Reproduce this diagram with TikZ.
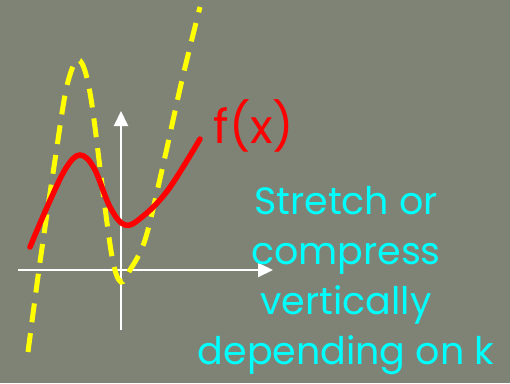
\documentclass[tikz,border=0pt]{standalone}
\usepackage{fontspec}
\setmainfont{Poppins}
\usetikzlibrary{arrows.meta}
\definecolor{bg}{RGB}{126,131,118}
\definecolor{cyantext}{RGB}{0,255,255}
\definecolor{redcurve}{RGB}{255,0,0}
\definecolor{yellowdash}{RGB}{255,255,0}
\tikzset{
  axis/.style={draw=white, line width=2pt, -{Triangle[width=14pt,length=15pt]}, fill=white},
  fcurve/.style={draw=redcurve, line width=5.5pt, line cap=round},
  kcurve/.style={draw=yellowdash, line width=5pt, dash pattern=on 19pt off 11pt},
  lbl/.style={inner sep=0pt, font=\fontsize{47}{52}\selectfont, text=redcurve},
  desc/.style={inner sep=0pt, align=center, font=\fontsize{38}{50}\selectfont, text=cyantext}
}
\begin{document}
\begin{tikzpicture}[x=1pt,y=-1pt]
\fill[bg] (0,0) rectangle (510,383);
\useasboundingbox (0,0) rectangle (510,383);
% axes
\coordinate (xs) at (18,270);
\coordinate (xe) at (273,270);
\coordinate (ys) at (121,330);
\coordinate (ye) at (121,111);
\draw[axis] (xs) -- (xe);
\draw[axis] (ys) -- (ye);
% yellow stretched curve
\draw[kcurve] plot[smooth, tension=0.55] coordinates {(28,352) (40,262) (55,160) (66,90) (76,61) (84,68) (92,105) (104,200) (113,262) (121,282) (130,270) (145,240) (162,170) (182,80) (200,7)};
% red curve
\draw[fcurve] plot[smooth, tension=0.6] coordinates {(30,247) (48,205) (66,168) (80,155) (94,168) (110,207) (125,225) (142,217) (168,190) (200,139)};
% labels
\node[lbl] (f) at (254,126) {f(x)};
\node[desc] (d) at (346,281) {Stretch or\\compress\\vertically\\depending on k};
\end{tikzpicture}
\end{document}
